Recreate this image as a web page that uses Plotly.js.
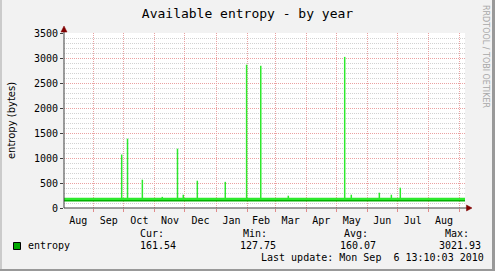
<!DOCTYPE html>
<html>
<head>
<meta charset="utf-8">
<script src="https://cdn.plot.ly/plotly-3.0.1.min.js"></script>
<style>html,body{margin:0;padding:0;background:#f2f2f2;}#chart{width:495px;height:271px;}</style>
</head>
<body>
<div id="chart"></div>
<script>
// ---- data ----
const rangeStart = '2009-08-02 06:00';
const rangeEnd = '2010-09-06 13:10';
const levelDates = ['2009-08-02 06:00', '2010-09-06 13:10'];
const maxLevel = [180, 180];
const avgLevel = [146, 146];
const spikeDates = ['2009-09-28 20:00','2009-10-04 16:00','2009-10-19 11:00','2009-11-08 08:00',
  '2009-11-23 13:00','2009-11-29 08:00','2009-12-13 08:00','2010-01-10 06:00','2010-01-31 13:00',
  '2010-02-14 16:00','2010-03-14 04:00','2010-05-09 11:00','2010-05-16 01:00','2010-06-13 01:00',
  '2010-06-25 01:00','2010-07-03 23:00'];
const spikeValues = [1070,1386,566,223,1186,266,546,523,2866,2846,246,3022,266,306,266,406];
const seriesName = 'entropy';
const statLabels = ['Cur:', 'Min:', 'Avg:', 'Max:'];
const statValues = ['161.54', '127.75', '160.07', '3021.93'];
const lastUpdate = 'Last update: Mon Sep  6 13:10:03 2010';
const titleText = 'Available entropy - by year';
const yTitle = 'entropy (bytes)';
const watermark = 'RRDTOOL / TOBI OETIKER';

// ---- geometry helpers (plot area: left 64, top 33, 401 x 175) ----
const L = 64, T = 33, W = 401, H = 175, B0 = T + H;
const px = x => (x - L) / W;
const py = y => (B0 - y) / H;

// spikes drawn as vertical segments from the base level
const sx = [], sy = [];
spikeDates.forEach((d, i) => { sx.push(d, d, null); sy.push(maxLevel[0], spikeValues[i], null); });

const mono = 'DejaVu Sans Mono';
const traces = [
  {x: sx, y: sy, type: 'scatter', mode: 'lines', line: {color: '#2de82d', width: 1.5}, hoverinfo: 'skip'},
  {x: levelDates, y: maxLevel, type: 'scatter', mode: 'lines', line: {color: '#2de82d', width: 2.5}, hoverinfo: 'skip'},
  {x: levelDates, y: avgLevel, type: 'scatter', mode: 'lines', line: {color: '#00b000', width: 1.5}, hoverinfo: 'skip'}
];

const annotations = [];
const labelX = [138, 241, 342, 443];
const valueX = [138, 238, 338, 437];
statLabels.forEach((s, i) => annotations.push({text: s, x: px(labelX[i]), y: py(233.5), xref: 'paper', yref: 'paper', xanchor: 'left', yanchor: 'middle', showarrow: false, font: {family: mono, size: 10, color: '#000'}}));
statValues.forEach((s, i) => annotations.push({text: s, x: px(valueX[i]), y: py(245.5), xref: 'paper', yref: 'paper', xanchor: 'left', yanchor: 'middle', showarrow: false, font: {family: mono, size: 10, color: '#000'}}));
annotations.push({text: seriesName, x: px(26), y: py(245.5), xref: 'paper', yref: 'paper', xanchor: 'left', yanchor: 'middle', showarrow: false, font: {family: mono, size: 10, color: '#000'}});
annotations.push({text: lastUpdate, x: px(259), y: py(257.5), xref: 'paper', yref: 'paper', xanchor: 'left', yanchor: 'middle', showarrow: false, font: {family: mono, size: 10, color: '#000'}});
annotations.push({text: watermark, x: px(485.5), y: py(56.5), xref: 'paper', yref: 'paper', xanchor: 'center', yanchor: 'middle', textangle: 90, showarrow: false, font: {family: 'DejaVu Sans', size: 8, color: '#a8a8a8'}});

const shapes = [
  // frame shading
  {type: 'rect', xref: 'paper', yref: 'paper', x0: px(0), x1: px(2), y0: py(0), y1: py(271), fillcolor: '#cbcbcb', line: {width: 0}},
  {type: 'rect', xref: 'paper', yref: 'paper', x0: px(0), x1: px(495), y0: py(269), y1: py(271), fillcolor: '#999999', line: {width: 0}},
  {type: 'rect', xref: 'paper', yref: 'paper', x0: px(492), x1: px(495), y0: py(0), y1: py(271), fillcolor: '#999999', line: {width: 0}},
  // legend swatch
  {type: 'rect', xref: 'paper', yref: 'paper', x0: px(13.5), x1: px(20.5), y0: py(242.5), y1: py(249.5), fillcolor: '#00a800', line: {color: '#000', width: 1}},
  // axis lines
  {type: 'line', xref: 'paper', yref: 'paper', x0: 0, x1: 0, y0: 0, y1: py(31), line: {color: '#404040', width: 1}},
  {type: 'line', xref: 'paper', yref: 'paper', x0: 0, x1: px(467), y0: 0, y1: 0, line: {color: '#404040', width: 1}},
  // arrows
  {type: 'path', xref: 'paper', yref: 'paper', path: `M ${px(61)},${py(32)} L ${px(67)},${py(32)} L ${px(64)},${py(26)} Z`, fillcolor: '#800000', line: {color: '#800000', width: 0.5}},
  {type: 'path', xref: 'paper', yref: 'paper', path: `M ${px(466.5)},${py(205)} L ${px(466.5)},${py(211)} L ${px(472)},${py(208)} Z`, fillcolor: '#800000', line: {color: '#800000', width: 0.5}}
];

const layout = {
  width: 495, height: 271,
  margin: {l: L, r: 495 - L - W, t: T, b: 271 - B0},
  paper_bgcolor: '#f2f2f2', plot_bgcolor: '#ffffff',
  showlegend: false,
  title: {text: titleText, font: {family: mono, size: 13, color: '#000'}, x: 0.5, xref: 'container', xanchor: 'center', y: 1 - 13.5 / 271, yref: 'container', yanchor: 'middle'},
  xaxis: {
    type: 'date', range: [rangeStart, rangeEnd], fixedrange: true,
    tick0: '2009-08-01', dtick: 'M1', tickformat: '%b', ticklabelmode: 'period',
    showgrid: true, gridcolor: '#eaa2a2', griddash: '1px,1px', gridwidth: 1,
    ticks: 'outside', ticklen: 3, tickcolor: '#e08a8a',
    showline: false, zeroline: false,
    tickfont: {family: mono, size: 10, color: '#000'}
  },
  yaxis: {
    range: [0, 3500], dtick: 500, tick0: 0, fixedrange: true,
    showgrid: true, gridcolor: '#eaa2a2', griddash: '1px,1px', gridwidth: 1,
    minor: {dtick: 100, showgrid: true, gridcolor: '#d2d2d2', griddash: '1px,1px', gridwidth: 1},
    ticks: 'outside', ticklen: 3, tickcolor: '#404040',
    showline: false, zeroline: false,
    tickfont: {family: mono, size: 10, color: '#000'},
    title: {text: yTitle, font: {family: 'DejaVu Sans', size: 10, color: '#000'}, standoff: 16}
  },
  shapes: shapes,
  annotations: annotations
};

Plotly.newPlot('chart', traces, layout, {staticPlot: true, displayModeBar: false});
</script>
</body>
</html>
